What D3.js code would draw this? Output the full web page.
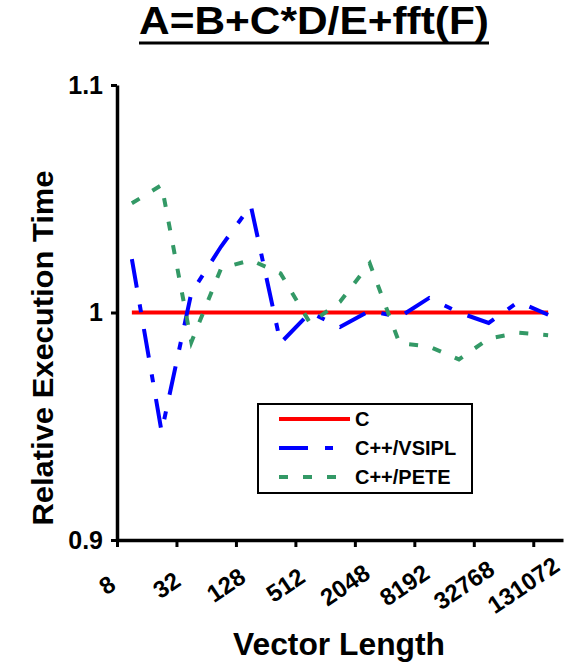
<!DOCTYPE html>
<html>
<head>
<meta charset="utf-8">
<script src="https://cdn.jsdelivr.net/npm/d3@7"></script>
<style>
  body { margin: 0; background: #fff; }
  text { font-family: Arial, "Liberation Sans", sans-serif; font-weight: bold; }
</style>
</head>
<body>
<script>
// vector lengths 2^3 .. 2^17
var lengths = [8, 16, 32, 64, 128, 256, 512, 1024, 2048, 4096, 8192, 16384, 32768, 65536, 131072];
var cTimes = [1, 1, 1, 1, 1, 1, 1, 1, 1, 1, 1, 1, 1, 1, 1];
var vsiplTimes = [1.0235, 0.9476, 1.0086, 1.029, 1.047, 0.9866, 1.0, 0.9936, 1.0008, 0.998, 1.0064, 1.0, 0.9954, 1.0047, 0.999];
var peteTimes = [1.048, 1.056, 0.987, 1.0194, 1.023, 1.0172, 0.9952, 1.0047, 1.0216, 0.9865, 0.985, 0.9794, 0.9885, 0.9911, 0.990];
var yTicks = [0.9, 1, 1.1];
var seriesNames = ["C", "C++/VSIPL", "C++/PETE"];

var width = 578, height = 663;

var svg = d3.select("body")
  .append("svg")
  .attr("width", width)
  .attr("height", height);

var x = d3.scaleLinear()
  .domain([-0.5, lengths.length - 0.5])
  .range([117, 563]);

var y = d3.scaleLinear()
  .domain([0.9, 1.1])
  .range([540, 85]);

// title with underline
svg.append("text")
  .attr("x", 314)
  .attr("y", 34)
  .attr("text-anchor", "middle")
  .attr("font-size", "38px")
  .attr("textLength", 350)
  .attr("lengthAdjust", "spacingAndGlyphs")
  .text("A=B+C*D/E+fft(F)");
svg.append("line")
  .attr("x1", 139).attr("x2", 489)
  .attr("y1", 43).attr("y2", 43)
  .attr("stroke", "#000").attr("stroke-width", 3);

// x axis: ticks on category boundaries, every other one labelled
var xTickVals = [];
for (var i = 0; i < lengths.length; i += 2) xTickVals.push(i - 0.5);

var xAxisCall = d3.axisBottom(x)
  .tickValues(xTickVals)
  .tickSize(7)
  .tickSizeOuter(0)
  .tickFormat("");

var xAxis = svg.append("g")
  .attr("transform", "translate(0," + y(0.9) + ")")
  .call(xAxisCall);
xAxis.select(".domain").attr("stroke-width", 3.5);
xAxis.selectAll(".tick line").attr("stroke-width", 3);

svg.selectAll(".xlabel")
  .data(xTickVals)
  .enter()
  .append("text")
  .attr("class", "xlabel")
  .attr("font-size", "24px")
  .attr("text-anchor", "middle")
  .attr("dominant-baseline", "central")
  .attr("transform", function(d) { return "translate(" + (x(d) - 10) + ",585) rotate(-34)"; })
  .text(function(d) { return lengths[d + 0.5]; });

// y axis
var yAxisCall = d3.axisLeft(y)
  .tickValues(yTicks)
  .tickSize(6)
  .tickSizeOuter(0)
  .tickFormat(function(d) { return d === 1 ? "1" : d3.format(".1f")(d); });

var yAxis = svg.append("g")
  .attr("transform", "translate(" + x(-0.5) + ",0)")
  .call(yAxisCall);
yAxis.select(".domain").attr("stroke-width", 3.5);
yAxis.selectAll(".tick line").attr("stroke-width", 3);
yAxis.selectAll(".tick text")
  .attr("font-size", "25px")
  .attr("font-family", null)
  .attr("fill", "#000")
  .attr("x", -14);

// axis titles
svg.append("text")
  .attr("x", 339)
  .attr("y", 655)
  .attr("text-anchor", "middle")
  .attr("font-size", "31px")
  .attr("textLength", 212)
  .attr("lengthAdjust", "spacingAndGlyphs")
  .text("Vector Length");

svg.append("text")
  .attr("transform", "translate(53,348) rotate(-90)")
  .attr("text-anchor", "middle")
  .attr("font-size", "30px")
  .attr("textLength", 355)
  .attr("lengthAdjust", "spacingAndGlyphs")
  .text("Relative Execution Time");

// lines
var line = d3.line()
  .x(function(d, i) { return x(i); })
  .y(function(d) { return y(d); });

var styles = [
  {data: cTimes, color: "#ff0000", dash: null, w: 4},
  {data: vsiplTimes, color: "#0000ff", dash: "29,17,8,17", w: 4},
  {data: peteTimes, color: "#339966", dash: "9,15", w: 4}
];

styles.forEach(function(s) {
  svg.append("path")
    .datum(s.data)
    .attr("d", line)
    .attr("fill", "none")
    .attr("stroke", s.color)
    .attr("stroke-width", s.w)
    .attr("stroke-dasharray", s.dash);
});

// legend
var legend = svg.append("g");
legend.append("rect")
  .attr("x", 258).attr("y", 404)
  .attr("width", 214).attr("height", 89)
  .attr("fill", "#fff")
  .attr("stroke", "#000")
  .attr("stroke-width", 2);

styles.forEach(function(s, i) {
  var ly = 419 + i * 29;
  legend.append("line")
    .attr("x1", 279).attr("x2", 350)
    .attr("y1", ly).attr("y2", ly)
    .attr("stroke", s.color)
    .attr("stroke-width", s.w)
    .attr("stroke-dasharray", s.dash);
  legend.append("text")
    .attr("x", 355).attr("y", ly)
    .attr("dominant-baseline", "central")
    .attr("font-size", "20px")
    .text(seriesNames[i]);
});
</script>
</body>
</html>
